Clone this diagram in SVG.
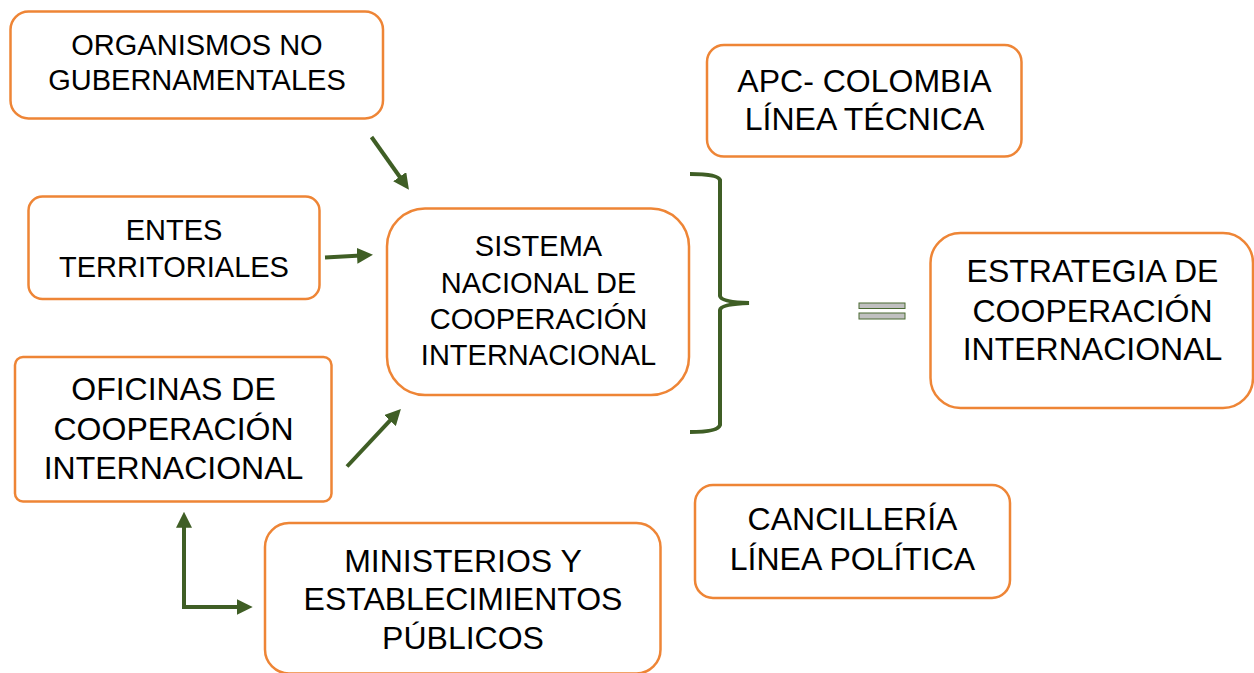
<svg xmlns="http://www.w3.org/2000/svg" width="1254" height="673" viewBox="0 0 1254 673">
<defs>
<style>
.box{fill:#ffffff;stroke:#EE8536;stroke-width:2.5}
.t{font-family:"Liberation Sans",Arial,sans-serif;fill:#000;text-anchor:middle}
.s29{font-size:29px}
.s32{font-size:32px}
.con{fill:none;stroke:#3F5E25;stroke-width:4}
</style>
<marker id="ah" viewBox="0 0 4 4" refX="1" refY="2" markerWidth="4" markerHeight="4" orient="auto-start-reverse" markerUnits="strokeWidth">
<path d="M0,0 L4,2 L0,4 z" fill="#3F5E25"/>
</marker>
</defs>
<rect width="1254" height="673" fill="#ffffff"/>

<g id="organismos">
<rect class="box" x="10.5" y="11.5" width="372.5" height="107" rx="18"/>
<text class="t s29" x="197" y="55">ORGANISMOS NO</text>
<text class="t s29" x="197" y="90">GUBERNAMENTALES</text>
</g>

<g id="entes">
<rect class="box" x="28.5" y="196.5" width="291" height="102.5" rx="14"/>
<text class="t s29" x="174" y="240">ENTES</text>
<text class="t s29" x="174" y="277">TERRITORIALES</text>
</g>

<g id="oficinas">
<rect class="box" x="15" y="357" width="316.5" height="144.5" rx="8"/>
<text class="t s32" x="173.5" y="400">OFICINAS DE</text>
<text class="t s32" x="173.5" y="440">COOPERACIÓN</text>
<text class="t s32" x="173.5" y="479">INTERNACIONAL</text>
</g>

<g id="ministerios">
<rect class="box" x="265" y="523" width="395.5" height="150.5" rx="24"/>
<text class="t s32" x="463" y="571.5">MINISTERIOS Y</text>
<text class="t s32" x="463" y="610">ESTABLECIMIENTOS</text>
<text class="t s32" x="463" y="648.5">PÚBLICOS</text>
</g>

<g id="sistema">
<rect class="box" x="387" y="208.5" width="302" height="186.5" rx="38"/>
<text class="t s29" x="538.5" y="256">SISTEMA</text>
<text class="t s29" x="538.5" y="292.5">NACIONAL DE</text>
<text class="t s29" x="538.5" y="329">COOPERACIÓN</text>
<text class="t s29" x="538.5" y="365">INTERNACIONAL</text>
</g>

<g id="apc">
<rect class="box" x="707" y="45" width="314.5" height="111.5" rx="17"/>
<text class="t s32" x="864.5" y="91.5">APC- COLOMBIA</text>
<text class="t s32" x="864.5" y="130">LÍNEA TÉCNICA</text>
</g>

<g id="estrategia">
<rect class="box" x="930.5" y="233" width="322.5" height="175" rx="30"/>
<text class="t s32" x="1092.5" y="281.5">ESTRATEGIA DE</text>
<text class="t s32" x="1092.5" y="321.5">COOPERACIÓN</text>
<text class="t s32" x="1092.5" y="360">INTERNACIONAL</text>
</g>

<g id="cancilleria">
<rect class="box" x="695" y="485" width="315" height="113" rx="18"/>
<text class="t s32" x="852.5" y="530">CANCILLERÍA</text>
<text class="t s32" x="852.5" y="570">LÍNEA POLÍTICA</text>
</g>

<g id="connectors">
<line class="con" x1="371.5" y1="137" x2="402" y2="180" marker-end="url(#ah)"/>
<line class="con" x1="325" y1="257.5" x2="361" y2="255.5" marker-end="url(#ah)"/>
<line class="con" x1="347" y1="466.5" x2="392.7" y2="417.7" marker-end="url(#ah)"/>
<path class="con" d="M184,523.7 L184,607 L240.7,607" marker-start="url(#ah)" marker-end="url(#ah)"/>
<path class="con" d="M690,174 Q718,174 720,180 L720,296 Q721,302 749,303 Q721,304 720,310 L720,425 Q718,432 690,432"/>
<g id="equals" fill="#C0C0C0" stroke="#4B6B33" stroke-width="1">
<rect x="859" y="303" width="46" height="5.5"/>
<rect x="859" y="313" width="46" height="6"/>
</g>
</g>
</svg>
